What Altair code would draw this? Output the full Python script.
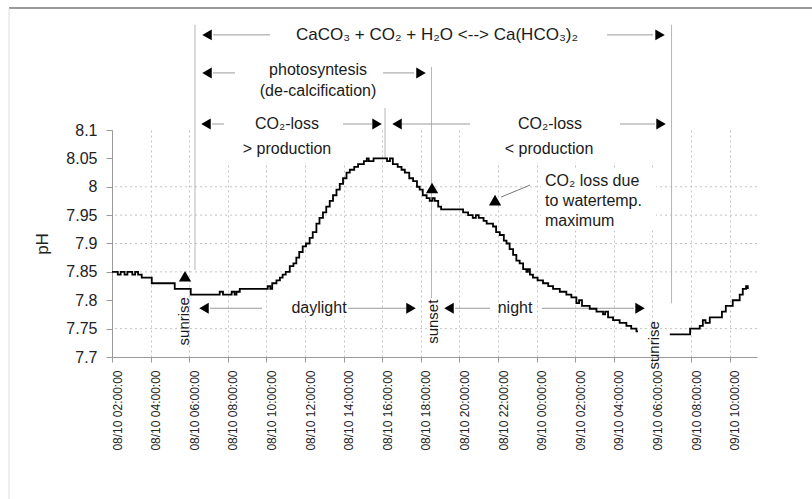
import altair as alt
import pandas as pd

BASE = pd.Timestamp("2010-10-08 00:00:00")

# ---------------- pH series (hours after 08/10 00:00, pH) ----------------
seg1_h = [2.00, 2.30, 2.45, 2.65, 2.80, 3.05, 3.20, 3.35, 3.54, 4.06, 5.25, 6.08,
          7.58, 7.75, 8.20, 8.35, 8.45, 8.62, 10.07, 10.20, 10.30, 10.52, 10.70,
          10.84, 11.00, 11.21, 11.40, 11.55, 11.70, 11.88, 12.05, 12.24, 12.40,
          12.59, 12.75, 12.93, 13.10, 13.28, 13.45, 13.63, 13.80, 13.97, 14.15,
          14.32, 14.55, 14.75, 15.05, 15.20, 15.30, 15.55, 16.25, 16.40, 16.55,
          16.80, 17.00, 17.17, 17.40, 17.60, 17.80, 17.94, 18.10, 18.30, 18.46,
          18.60, 18.72, 18.90, 19.05, 20.19, 20.45, 20.69, 20.85, 21.00, 21.25,
          21.41, 21.74, 21.90, 22.09, 22.30, 22.44, 22.60, 22.78, 22.95, 23.12,
          23.30, 23.47, 23.55, 23.65, 23.81, 24.05, 24.33, 24.60, 24.85, 25.20,
          25.54, 25.80, 26.06, 26.20, 26.35, 26.75, 27.10, 27.44, 27.55, 27.70,
          27.96, 28.30, 28.65, 28.90, 29.17, 29.25]
seg1_ph = [7.850, 7.845, 7.850, 7.845, 7.850, 7.845, 7.850, 7.845, 7.840, 7.830, 7.820, 7.810,
           7.815, 7.810, 7.815, 7.810, 7.815, 7.820, 7.825, 7.820, 7.830, 7.835, 7.840,
           7.845, 7.850, 7.860, 7.865, 7.875, 7.885, 7.895, 7.900, 7.910, 7.920,
           7.935, 7.945, 7.955, 7.965, 7.975, 7.985, 7.995, 8.005, 8.015, 8.025,
           8.030, 8.035, 8.040, 8.045, 8.050, 8.045, 8.050, 8.045, 8.050, 8.040,
           8.035, 8.030, 8.025, 8.015, 8.010, 8.000, 7.995, 7.985, 7.980, 7.975,
           7.980, 7.975, 7.965, 7.960, 7.955, 7.950, 7.945, 7.950, 7.945, 7.940,
           7.935, 7.930, 7.920, 7.915, 7.905, 7.900, 7.890, 7.880, 7.870, 7.865,
           7.855, 7.850, 7.855, 7.845, 7.840, 7.835, 7.830, 7.825, 7.820, 7.815,
           7.810, 7.805, 7.795, 7.800, 7.790, 7.785, 7.780, 7.775, 7.780, 7.770,
           7.765, 7.760, 7.755, 7.750, 7.745, 7.745]
seg2_h = [30.90, 31.95, 32.45, 32.61, 32.75, 32.97, 33.60, 33.80, 34.16, 34.52, 34.68, 34.85, 34.94]
seg2_ph = [7.740, 7.750, 7.755, 7.765, 7.760, 7.770, 7.780, 7.790, 7.800, 7.810, 7.820, 7.825, 7.820]

# tick hours (every 2 h from 08/10 02:00 to 09/10 10:00)
tick_hours = [2, 4, 6, 8, 10, 12, 14, 16, 18, 20, 22, 24, 26, 28, 30, 32, 34]
y_ticks = [7.7, 7.75, 7.8, 7.85, 7.9, 7.95, 8.0, 8.05, 8.1]
grid_ph = [7.75, 7.85, 7.9, 7.95, 8.0]

# ---------------- annotations ----------------
# vertical guide lines: hour, pH from, pH to
vline_h = [6.30, 16.145, 18.554, 30.990]
vline_p1 = [8.2853, 8.1388, 8.2112, 8.2853]
vline_p2 = [7.8530, 8.0506, 7.8035, 7.7947]

# arrow shafts: hour from, hour to, pH
shaft_h1 = [7.233, 27.648, 7.233, 16.041, 7.181, 13.969, 17.026, 28.321, 7.078, 14.228, 19.772, 24.280]
shaft_h2 = [10.187, 30.031, 8.373, 17.648, 7.803, 15.472, 20.549, 30.135, 9.772, 17.233, 21.585, 29.047]
shaft_p = [8.2676, 8.2676, 8.2006, 8.2006, 8.1106, 8.1106, 8.1106, 8.1106, 7.7859, 7.7859, 7.7859, 7.7859]

# arrow heads
head_h = [6.922, 30.394, 6.922, 18.010, 6.870, 15.731, 16.767, 30.446, 6.767, 17.492, 19.461, 29.358]
head_p = [8.2676, 8.2676, 8.2006, 8.2006, 8.1106, 8.1106, 8.1106, 8.1106, 7.7859, 7.7859, 7.7859, 7.7859]
head_dir = ["left", "right", "left", "right", "left", "right", "left", "right", "left", "right", "left", "right"]

# upward markers (sunrise, sunset, water temperature maximum)
mark_h = [5.782, 18.580, 21.845]
mark_p = [7.8424, 7.9977, 7.9765]

# pointer line
ptr_h = [22.155, 23.658]
ptr_p = [7.9818, 8.0029]

# white label boxes: hour from, hour to, pH from, pH to
box_h1 = [24.228, 7.803, 21.067]
box_h2 = [30.187, 14.332, 30.497]
box_p1 = [8.0329, 8.11, 8.11]
box_p2 = [7.9235, 8.0435, 8.0435]

# centred texts
txt_label = ["photosyntesis", "(de-calcification)", "CO\u2082-loss", "> production",
             "CO\u2082-loss", "< production", "daylight", "night"]
txt_h = [12.674, 12.674, 11.067, 11.067, 24.694, 24.642, 12.725, 22.881]
txt_p = [8.2059, 8.1688, 8.1106, 8.0665, 8.1106, 8.0665, 7.7859, 7.7859]

# reaction equation
eq_label = ["CaCO\u2083  + CO\u2082 + H\u2082O <--> Ca(HCO\u2083)\u2082"]
eq_h = [18.839]
eq_p = [8.2676]

# left-aligned note
note_label = ["CO\u2082 loss due", "to watertemp.", "maximum"]
note_h = [24.435, 24.435, 24.435]
note_p = [8.0100, 7.9747, 7.9394]

# rotated texts
rot_label = ["sunrise", "sunset", "sunrise"]
rot_h = [5.731, 18.606, 30.083]
rot_p = [7.7630, 7.7621, 7.7206]


def ts(hours):
    return BASE + pd.to_timedelta(pd.Series(hours, dtype=float), unit="h")


def dtm(h):
    d = 8 + int(h // 24)
    hh = int(h % 24)
    mm = int(round((h - int(h)) * 60))
    return alt.DateTime(year=2010, month=10, date=d, hours=hh, minutes=mm)


FONT = "Liberation Sans"
GRAY = "#9a9a9a"

x_scale = alt.Scale(domain=[dtm(2), dtm(35 + 25 / 60)])
y_scale = alt.Scale(domain=[7.7, 8.1], zero=False, nice=False)

x_axis = alt.Axis(values=[dtm(h) for h in tick_hours], format="%d/%m %H:%M:%S",
                  labelAngle=270, labelFontSize=12, labelFont=FONT, labelColor="#222",
                  labelPadding=8, labelOffset=5, tickSize=5, tickColor=GRAY, domainColor=GRAY,
                  grid=True, gridDash=[2, 3], gridColor="#c4c4c4", title=None)
y_axis = alt.Axis(values=y_ticks, format=".2~f", labelFontSize=16, labelFont=FONT,
                  labelColor="#222", labelPadding=9, tickSize=6, tickColor=GRAY,
                  domainColor=GRAY, grid=False, title="pH", titleFont=FONT,
                  titleFontSize=17, titleFontWeight="normal", titleColor="#222",
                  titlePadding=14)


def X(f="t"):
    return alt.X(f"{f}:T", scale=x_scale, axis=x_axis)


def Y(f="p"):
    return alt.Y(f"{f}:Q", scale=y_scale, axis=y_axis)


df_line = pd.DataFrame({
    "t": pd.concat([ts(seg1_h), ts(seg2_h)], ignore_index=True),
    "p": seg1_ph + seg2_ph,
    "seg": ["a"] * len(seg1_h) + ["b"] * len(seg2_h),
})

grid = alt.Chart(pd.DataFrame({"p": grid_ph})).mark_rule(
    color="#c4c4c4", strokeDash=[2, 3], strokeWidth=1).encode(y=Y())

boxes = alt.Chart(pd.DataFrame({"t": ts(box_h1), "t2": ts(box_h2), "p": box_p1, "p2": box_p2})
                  ).mark_rect(color="white").encode(x=X(), x2="t2:T", y=Y(), y2="p2:Q")

vlines = alt.Chart(pd.DataFrame({"t": ts(vline_h), "p": vline_p1, "p2": vline_p2})
                   ).mark_rule(color="#b5b5b5", strokeWidth=1).encode(x=X(), y=Y(), y2="p2:Q")

shafts = alt.Chart(pd.DataFrame({"t": ts(shaft_h1), "t2": ts(shaft_h2), "p": shaft_p})
                   ).mark_rule(color=GRAY, strokeWidth=1).encode(x=X(), x2="t2:T", y=Y())

line = alt.Chart(df_line).mark_line(color="black", strokeWidth=1.8, interpolate="step-after"
                                    ).encode(x=X(), y=Y(), detail="seg:N")

heads_df = pd.DataFrame({"t": ts(head_h), "p": head_p, "d": head_dir})
heads_l = alt.Chart(heads_df[heads_df.d == "left"]).mark_point(
    shape="triangle-left", filled=True, color="black", size=120, opacity=1).encode(x=X(), y=Y())
heads_r = alt.Chart(heads_df[heads_df.d == "right"]).mark_point(
    shape="triangle-right", filled=True, color="black", size=120, opacity=1).encode(x=X(), y=Y())

ups = alt.Chart(pd.DataFrame({"t": ts(mark_h), "p": mark_p})).mark_point(
    shape="triangle-up", filled=True, color="black", size=150, opacity=1).encode(x=X(), y=Y())

ptr = alt.Chart(pd.DataFrame({"t": ts([ptr_h[0]]), "t2": ts([ptr_h[1]]),
                              "p": [ptr_p[0]], "p2": [ptr_p[1]]})).mark_rule(
    color="#777", strokeWidth=1).encode(x=X(), x2="t2:T", y=Y(), y2="p2:Q")

texts = alt.Chart(pd.DataFrame({"t": ts(txt_h), "p": txt_p, "s": txt_label})).mark_text(
    font=FONT, fontSize=16, color="#1a1a1a", align="center", baseline="middle"
).encode(x=X(), y=Y(), text="s:N")

eq = alt.Chart(pd.DataFrame({"t": ts(eq_h), "p": eq_p, "s": eq_label})).mark_text(
    font=FONT, fontSize=17, color="#1a1a1a", align="center", baseline="middle"
).encode(x=X(), y=Y(), text="s:N")

notes = alt.Chart(pd.DataFrame({"t": ts(note_h), "p": note_p, "s": note_label})).mark_text(
    font=FONT, fontSize=16, color="#1a1a1a", align="left", baseline="middle"
).encode(x=X(), y=Y(), text="s:N")

rots = alt.Chart(pd.DataFrame({"t": ts(rot_h), "p": rot_p, "s": rot_label})).mark_text(
    font=FONT, fontSize=15, color="#1a1a1a", align="center", baseline="middle", angle=270
).encode(x=X(), y=Y(), text="s:N")

one = pd.DataFrame({"a": [0]})
frame_top = alt.Chart(one).mark_rule(color="#7a7a7a", strokeWidth=1.5).encode(
    x=alt.value(-103), x2=alt.value(700), y=alt.value(-122))
frame_left = alt.Chart(one).mark_rule(color="#dddddd", strokeWidth=1).encode(
    x=alt.value(-103), y=alt.value(-122), y2=alt.value(369))

chart = alt.layer(
    grid, boxes, vlines, shafts, line, heads_l, heads_r, ups, ptr, texts, eq, notes, rots,
    frame_top, frame_left
).properties(
    width=645, height=227,
    autosize=alt.AutoSizeParams(type="none"),
    padding={"left": 112, "top": 130, "right": 55, "bottom": 142},
    background="white",
).configure_view(stroke="transparent")

chart.save("out.html", embed_options={"renderer": "svg", "actions": False})
